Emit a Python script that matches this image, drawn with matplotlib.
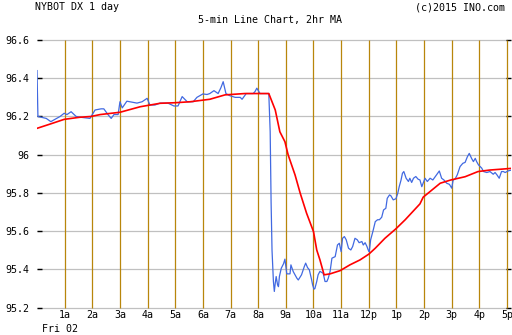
import matplotlib
matplotlib.use("Agg")
import matplotlib.pyplot as plt

# 5-minute closes (minutes after midnight, price)
price_minutes = [0, 2, 20, 30, 39, 50, 59, 65, 74, 85, 98, 115, 126, 139, 145, 154, 161, 167, 176,
                 180, 185, 195, 206, 217, 228, 239, 245, 256, 267, 284, 297, 306, 315, 326, 339,
                 347, 360, 369, 375, 384, 393, 399, 404, 410, 417, 430, 441, 445, 454, 469, 473,
                 477, 484, 501, 503, 506, 508, 510, 513, 515, 517, 519, 522, 524, 526, 530, 535,
                 538, 542, 549, 551, 556, 564, 567, 574, 580, 583, 587, 591, 596, 598, 601, 603,
                 607, 610, 614, 621, 625, 629, 632, 636, 640, 647, 652, 656, 660, 663, 667, 671,
                 676, 681, 685, 690, 695, 699, 705, 708, 712, 716, 719, 721, 724, 729, 734, 739,
                 743, 748, 752, 757, 760, 765, 768, 773, 779, 783, 786, 790, 793, 796, 801, 806,
                 809, 813, 817, 822, 827, 831, 835, 842, 847, 853, 859, 864, 869, 873, 878, 883,
                 889, 895, 900, 903, 907, 912, 918, 924, 929, 934, 938, 943, 947, 951, 954, 958,
                 961, 965, 969, 976, 983, 990, 994, 998, 1003, 1008, 1012, 1016, 1023, 1030]
price_values = [96.44, 96.20, 96.19, 96.173, 96.185, 96.20, 96.217, 96.21, 96.225, 96.20, 96.195,
                96.19, 96.234, 96.24, 96.24, 96.21, 96.19, 96.21, 96.21, 96.277, 96.245, 96.28,
                96.275, 96.27, 96.277, 96.295, 96.26, 96.26, 96.27, 96.27, 96.255, 96.255, 96.304,
                96.277, 96.277, 96.30, 96.318, 96.315, 96.32, 96.335, 96.32, 96.35, 96.382, 96.32,
                96.31, 96.30, 96.30, 96.29, 96.32, 96.32, 96.33, 96.348, 96.32, 96.32, 96.32,
                96.12, 95.75, 95.50, 95.337, 95.285, 95.328, 95.363, 95.32, 95.31, 95.363, 95.406,
                95.43, 95.454, 95.377, 95.377, 95.424, 95.389, 95.354, 95.345, 95.372, 95.415,
                95.433, 95.41, 95.398, 95.345, 95.32, 95.297, 95.30, 95.337, 95.372, 95.39, 95.38,
                95.337, 95.337, 95.354, 95.39, 95.459, 95.467, 95.528, 95.537, 95.493, 95.563,
                95.572, 95.555, 95.511, 95.502, 95.52, 95.563, 95.555, 95.54, 95.546, 95.528,
                95.54, 95.52, 95.50, 95.493, 95.555, 95.60, 95.65, 95.66, 95.66, 95.673, 95.711,
                95.72, 95.772, 95.79, 95.785, 95.764, 95.77, 95.80, 95.833, 95.868, 95.903,
                95.912, 95.877, 95.86, 95.877, 95.855, 95.877, 95.886, 95.872, 95.868, 95.833,
                95.877, 95.86, 95.877, 95.868, 95.885, 95.903, 95.915, 95.877, 95.868, 95.851,
                95.845, 95.825, 95.868, 95.872, 95.895, 95.938, 95.955, 95.96, 95.99, 96.007,
                95.981, 95.964, 95.981, 95.964, 95.947, 95.94, 95.93, 95.912, 95.907, 95.912,
                95.898, 95.907, 95.895, 95.877, 95.912, 95.912, 95.907, 95.916, 95.92]

# 2-hour moving average
ma_minutes = [0, 28, 59, 93, 117, 137, 180, 224, 267, 300, 332, 375, 408, 451, 503, 517, 527, 538,
              545, 560, 571, 585, 600, 607, 614, 623, 636, 658, 679, 701, 720, 734, 755, 779, 799,
              831, 838, 875, 898, 929, 957, 983, 1005, 1031]
ma_values = [96.138, 96.16, 96.185, 96.196, 96.20, 96.21, 96.222, 96.251, 96.269, 96.272, 96.277,
             96.29, 96.313, 96.32, 96.32, 96.234, 96.12, 96.068, 95.999, 95.894, 95.80, 95.694,
             95.598, 95.502, 95.45, 95.372, 95.377, 95.394, 95.424, 95.45, 95.48, 95.511, 95.563,
             95.613, 95.66, 95.743, 95.778, 95.851, 95.868, 95.885, 95.912, 95.92, 95.924, 95.929]

hour_labels = ["1a", "2a", "3a", "4a", "5a", "6a", "7a", "8a", "9a", "10a", "11a",
               "12p", "1p", "2p", "3p", "4p", "5p"]
price_ticks = [95.2, 95.4, 95.6, 95.8, 96.0, 96.2, 96.4, 96.6]

W, H = 512, 335
fig = plt.figure(figsize=(W / 100, H / 100), dpi=100)
fig.patch.set_facecolor("white")
font = {"family": "DejaVu Sans Mono", "size": 7.2, "color": "black"}

left_px, right_px, top_px, bottom_px = 37, 511, 40, 307.7
ax = fig.add_axes([left_px / W, 1 - bottom_px / H, (right_px - left_px) / W, (bottom_px - top_px) / H])
ax.set_facecolor("white")
xmax = (right_px - left_px) / (27.65 / 60)
ax.set_xlim(0, xmax)
ax.set_ylim(95.2, 96.6)
for s in ax.spines.values():
    s.set_visible(False)

# horizontal grid and hourly markers
ax.hlines(price_ticks, 0, 17 * 60, colors="#c0c0c0", linewidth=0.9, zorder=1, clip_on=False)
hour_pos = [60 * (i + 1) for i in range(len(hour_labels))]
ax.vlines(hour_pos, 95.2, 96.6, colors="#b8860b", linewidth=0.9, zorder=2, clip_on=False)

ax.plot(price_minutes, price_values, color="#4169e1", linewidth=0.9, zorder=3)
ax.plot(ma_minutes, ma_values, color="#ff0000", linewidth=1.2, zorder=4)

ax.set_yticks(price_ticks)
ax.set_yticklabels([f"{v:g}" for v in price_ticks], fontdict=font)
ax.tick_params(axis="y", which="both", direction="in", length=3.5, width=1, color="black",
               pad=5.5, left=True, right=True, labelleft=True, labelright=False)
ax.set_xticks(hour_pos)
ax.set_xticklabels(hour_labels, fontdict=font)
ax.tick_params(axis="x", length=0, pad=2.0)

fig.text(42 / W, 1 - 323.5 / H, "Fri 02", ha="left", va="top", fontdict=font)
fig.text(35 / W, 1 - 7 / H, "NYBOT DX 1 day", ha="left", va="center", fontdict=font)
fig.text(505 / W, 1 - 7 / H, "(c)2015 INO.com", ha="right", va="center", fontdict=font)
fig.text(270.5 / W, 1 - 20 / H, "5-min Line Chart, 2hr MA", ha="center", va="center", fontdict=font)

fig.savefig("out.png", dpi=100, facecolor="white")
